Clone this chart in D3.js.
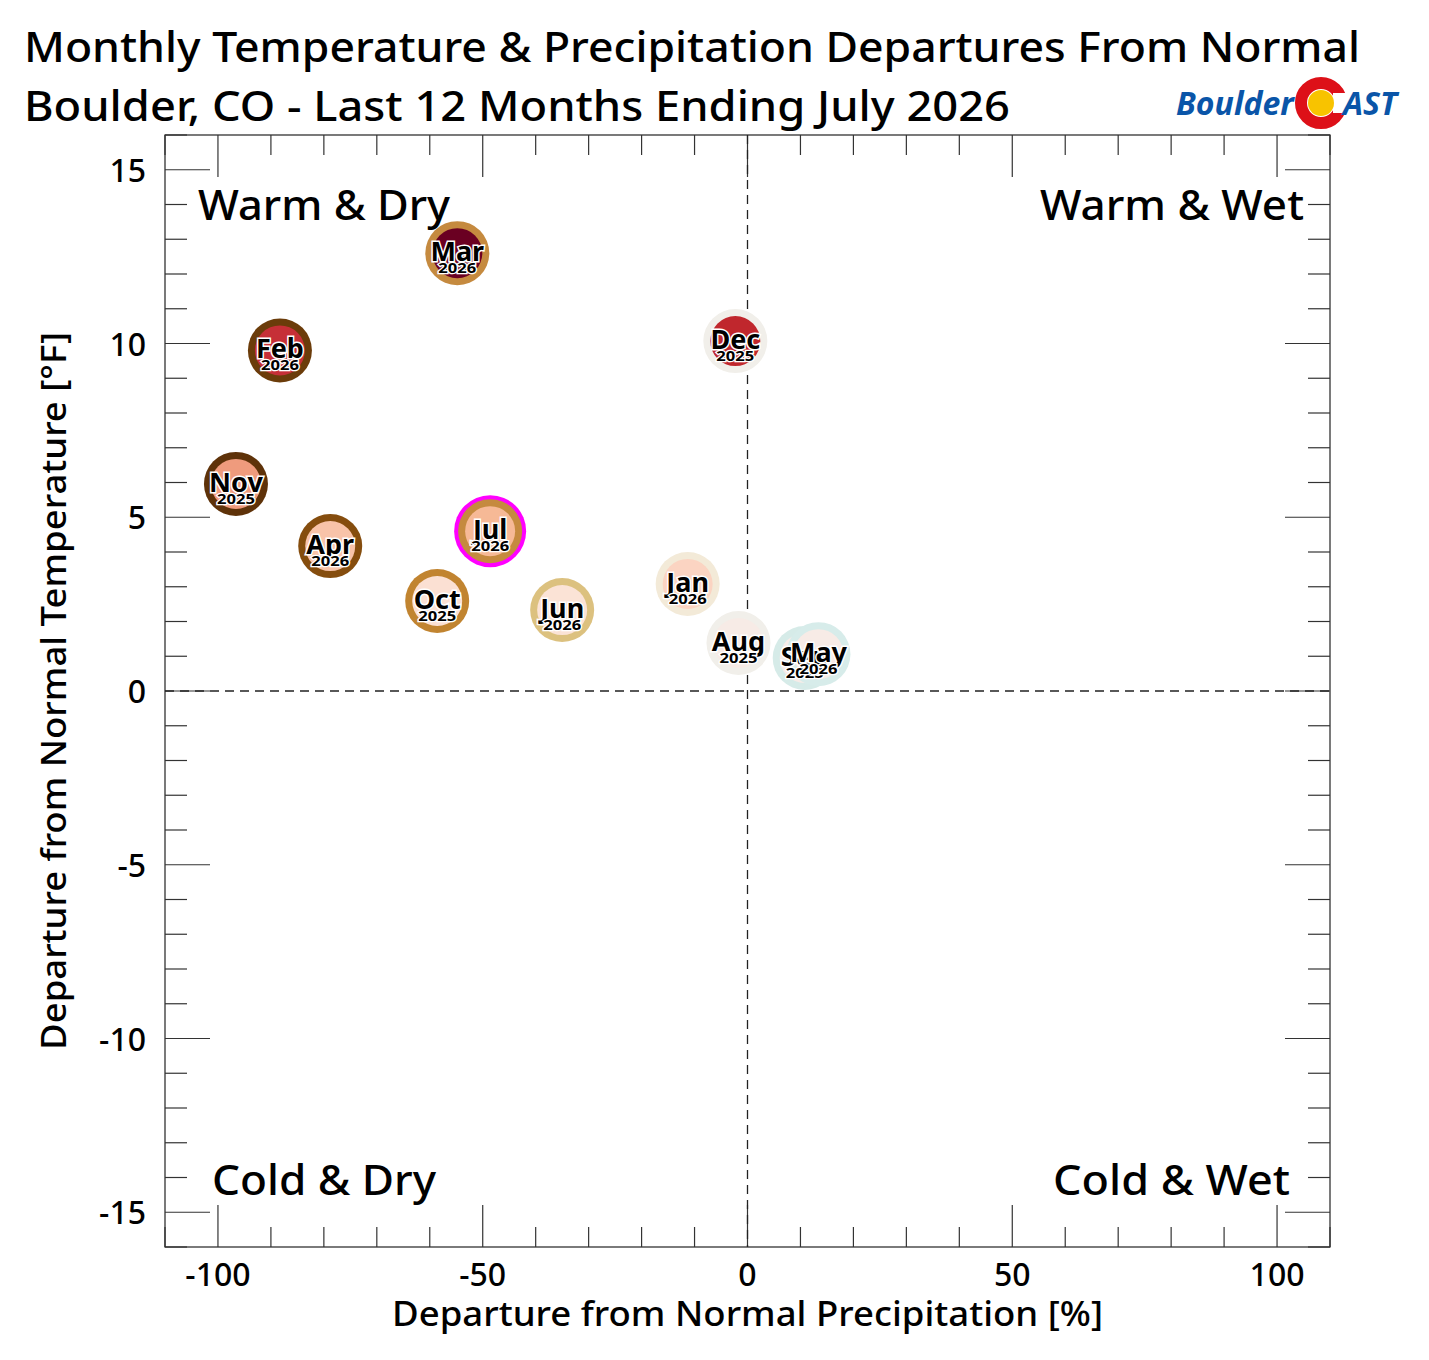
<!DOCTYPE html>
<html><head><meta charset="utf-8">
<script src="https://cdn.jsdelivr.net/npm/d3@7"></script>
<style>body{margin:0;background:#fff}text{font-family:"Noto Sans","DejaVu Sans",sans-serif}</style>
</head><body><svg id="c" width="1429" height="1360"></svg>
<script>
// month data
const months = ["Aug","Sep","Oct","Nov","Dec","Jan","Feb","Mar","Apr","May","Jun","Jul"];
const years  = ["2025","2025","2025","2025","2025","2026","2026","2026","2026","2026","2026","2026"];
const precip = [-1.7, 10.8, -58.6, -96.6, -2.3, -11.3, -88.3, -54.8, -78.8, 13.4, -35, -48.6];
const temp   = [1.38, 0.95, 2.59, 5.96, 10.07, 3.08, 9.8, 12.6, 4.17, 1.06, 2.33, 4.6];
const fills  = ["#f7ebe6","#f7ece8","#fbe0d3","#ef9b7d","#c0272d","#fbd4c2","#c62f37","#6a0022","#f8c3a9","#f7ebe6","#fbe3d6","#f6b996"];
const rings  = ["#f1efea","#d6ebe8","#c18430","#5e3209","#f1efea","#f3ead8","#6b3c0a","#c58a3f","#854d0e","#d7ecea","#dcc17f","#c58a3f"];

const svg = d3.select("#c");
const L = 165, R = 1330, T = 135, B = 1247;
const x = d3.scaleLinear().domain([-110, 110]).range([L, R]);
const y = d3.scaleLinear().domain([-16, 16]).range([B, T]);

function txt(s, px, py, size, len, anchor) {
  return svg.append("text").attr("x", px).attr("y", py).attr("font-size", size).attr("font-weight", 500)
    .attr("text-anchor", anchor || "start").attr("textLength", len).attr("lengthAdjust", "spacingAndGlyphs").text(s);
}

// titles
txt("Monthly Temperature & Precipitation Departures From Normal", 24, 62, 42, 1336);
txt("Boulder, CO - Last 12 Months Ending July 2026", 24, 121, 42, 986);

// logo
const lg = svg.append("g");
lg.append("text").attr("x", 1176).attr("y", 115).attr("font-size", 32).attr("font-weight", "bold")
  .attr("font-style", "italic").attr("fill", "#0a55a8").text("Boulder");
lg.append("circle").attr("cx", 1321).attr("cy", 103).attr("r", 20).attr("fill", "none")
  .attr("stroke", "#dd1018").attr("stroke-width", 12);
lg.append("rect").attr("x", 1333).attr("y", 93).attr("width", 14).attr("height", 20).attr("fill", "#fff");
lg.append("circle").attr("cx", 1321).attr("cy", 103).attr("r", 13).attr("fill", "#f8c300");
lg.append("text").attr("x", 1343).attr("y", 115).attr("font-size", 32).attr("font-weight", "bold")
  .attr("font-style", "italic").attr("fill", "#0a55a8").text("AST");

// frame
svg.append("rect").attr("x", L).attr("y", T).attr("width", R - L).attr("height", B - T)
  .attr("fill", "none").attr("stroke", "#222").attr("stroke-width", 1.2);

// ticks
const tk = svg.append("g").attr("stroke", "#333").attr("stroke-width", 1.2);
d3.range(-110, 111, 10).forEach(v => {
  const len = v % 50 === 0 ? 42 : 20;
  tk.append("line").attr("x1", x(v)).attr("x2", x(v)).attr("y1", B).attr("y2", B - len);
  tk.append("line").attr("x1", x(v)).attr("x2", x(v)).attr("y1", T).attr("y2", T + len);
});
d3.range(-16, 17, 1).forEach(v => {
  const len = v % 5 === 0 ? 45 : 22;
  tk.append("line").attr("y1", y(v)).attr("y2", y(v)).attr("x1", L).attr("x2", L + len);
  tk.append("line").attr("y1", y(v)).attr("y2", y(v)).attr("x1", R).attr("x2", R - len);
});
[-100, -50, 0, 50, 100].forEach(v => svg.append("text").attr("x", x(v)).attr("y", 1286)
  .attr("text-anchor", "middle").attr("font-size", 32).attr("font-weight", 500).text(v));
[-15, -10, -5, 0, 5, 10, 15].forEach(v => svg.append("text").attr("x", 146).attr("y", y(v) + 12)
  .attr("text-anchor", "end").attr("font-size", 32).attr("font-weight", 500).text(v));

// axis titles
txt("Departure from Normal Precipitation [%]", 392, 1326, 34, 711);
svg.append("text").attr("transform", "translate(66,1050) rotate(-90)").attr("font-size", 34)
  .attr("font-weight", 500).attr("textLength", 718).attr("lengthAdjust", "spacingAndGlyphs")
  .text("Departure from Normal Temperature [°F]");

// zero lines
svg.append("line").attr("x1", L).attr("x2", R).attr("y1", y(0)).attr("y2", y(0))
  .attr("stroke", "#222").attr("stroke-width", 1.3).attr("stroke-dasharray", "9,6");
svg.append("line").attr("x1", x(0)).attr("x2", x(0)).attr("y1", T).attr("y2", B)
  .attr("stroke", "#222").attr("stroke-width", 1.3).attr("stroke-dasharray", "9,6");

// quadrant labels
txt("Warm & Dry", 198, 220, 42, 252);
txt("Warm & Wet", 1040, 220, 42, 264);
txt("Cold & Dry", 212, 1195, 42, 224);
txt("Cold & Wet", 1053, 1195, 42, 237);

// points: circles first, labels on top
const data = months.map((m, i) => ({m, yr: years[i], p: precip[i], t: temp[i], f: fills[i], r: rings[i]}));
const pos = d => `translate(${x(d.p)},${y(d.t)})`;
const g = svg.append("g").selectAll("g").data(data).join("g").attr("transform", pos);
g.filter(d => d.m === "Jul").append("circle").attr("r", 36).attr("fill", "#ff00ff");
g.append("circle").attr("r", 32).attr("fill", d => d.r);
g.append("circle").attr("r", 25).attr("fill", d => d.f);
const lb = svg.append("g").selectAll("g").data(data).join("g").attr("transform", pos);
lb.append("text").attr("y", 8).attr("text-anchor", "middle").attr("font-size", 27).attr("font-weight", "bold")
  .attr("stroke", "#fff").attr("stroke-width", 3).attr("paint-order", "stroke").text(d => d.m);
lb.append("text").attr("y", 20).attr("text-anchor", "middle").attr("font-size", 14).attr("font-weight", "bold")
  .attr("textLength", 38).attr("lengthAdjust", "spacingAndGlyphs")
  .attr("stroke", "#fff").attr("stroke-width", 2.5).attr("paint-order", "stroke").text(d => d.yr);
</script></body></html>
